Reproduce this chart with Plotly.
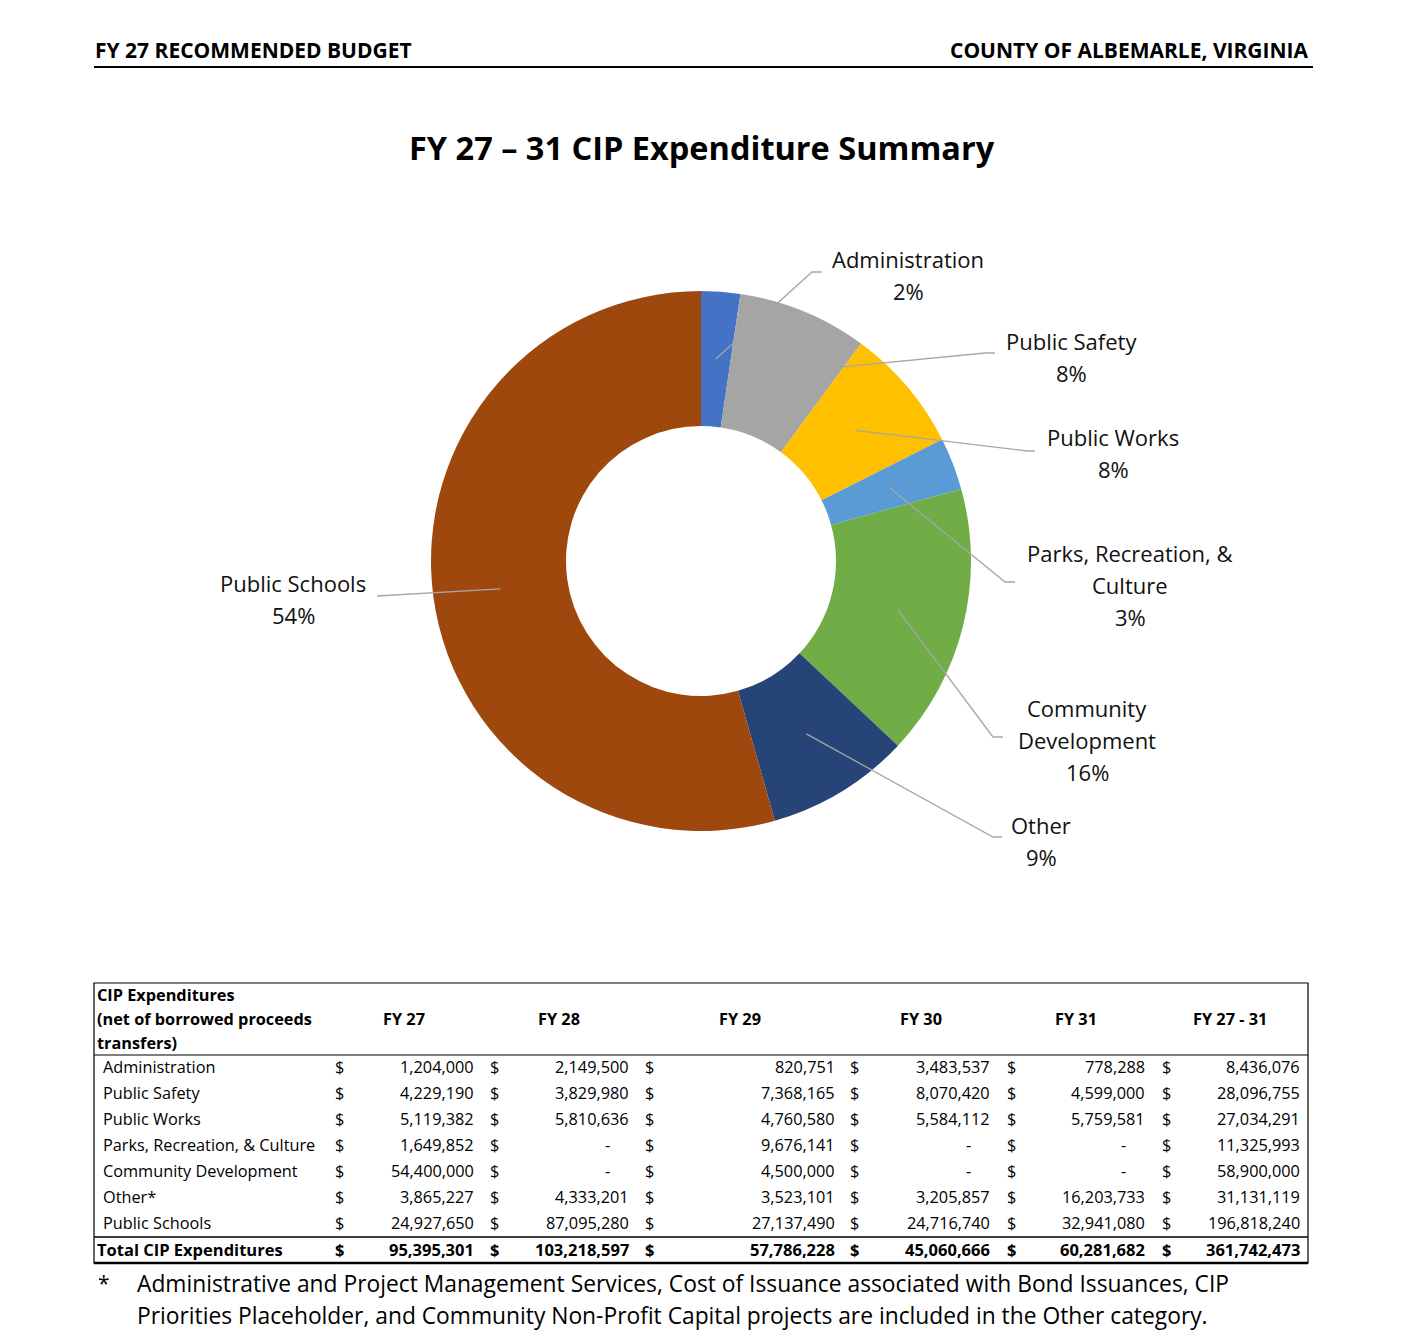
import math
import plotly.graph_objects as go

W, H = 1414, 1340

# ---------------- data ----------------
categories = ["Administration", "Public Safety", "Public Works", "Parks, Recreation, & Culture",
              "Community Development", "Other*", "Public Schools"]
chart_labels = [["Administration"], ["Public Safety"], ["Public Works"],
                ["Parks, Recreation, &", "Culture"], ["Community", "Development"],
                ["Other"], ["Public Schools"]]
pct_labels = ["2%", "8%", "8%", "3%", "16%", "9%", "54%"]
year_headers = ["FY 27", "FY 28", "FY 29", "FY 30", "FY 31", "FY 27 - 31"]
fy27 = [1204000, 4229190, 5119382, 1649852, 54400000, 3865227, 24927650]
fy28 = [2149500, 3829980, 5810636, 0, 0, 4333201, 87095280]
fy29 = [820751, 7368165, 4760580, 9676141, 4500000, 3523101, 27137490]
fy30 = [3483537, 8070420, 5584112, 0, 0, 3205857, 24716740]
fy31 = [778288, 4599000, 5759581, 0, 0, 16203733, 32941080]
fy27_31 = [8436076, 28096755, 27034291, 11325993, 58900000, 31131119, 196818240]
total_row = [95395301, 103218597, 57786228, 45060666, 60281682, 361742473]
colors = ["#4472C4", "#A5A5A5", "#FFC000", "#5B9BD5", "#70AD47", "#264478", "#9E480E"]

# ---------------- helpers ----------------
def X(px):
    return px / W

def Y(py):
    return 1 - py / H

FONT = "Open Sans"
fig = go.Figure()

# donut
cx, cy, R = 701, 561, 270
fig.add_trace(go.Pie(
    values=fy27_31, labels=categories, sort=False, direction="clockwise", rotation=0,
    hole=0.5, textinfo="none", hoverinfo="label+value+percent", showlegend=False,
    marker=dict(colors=colors, line=dict(width=0)),
    domain=dict(x=[X(cx - R), X(cx + R)], y=[Y(cy + R), Y(cy - R)]),
))

# label layout (style/positions)
anchor_frac = [0.5, 0.99, 0.5, 0.5, 0.5, 0.5, 0.5]
anchor_r = [0.75, 0.89, 0.75, 0.75, 0.75, 0.75, 0.75]
elbows = [(812, 272), (985, 353), (1027, 451), (1005, 582), (993, 737), (993, 837), (377, 596)]
ends = [(822, 272), (995, 353), (1035, 451), (1015, 582), (1003, 737), (1002, 837), (377, 596)]
label_x = [908, 1071, 1113, 1130, 1087, 1041, 293]
label_top = [259, 341, 437, 553, 708, 825, 583]
line_step = 32

shapes = []
annotations = []
total = sum(fy27_31)
cum = 0
for i, v in enumerate(fy27_31):
    a0 = cum / total * 360
    cum += v
    a1 = cum / total * 360
    a = math.radians(a0 + anchor_frac[i] * (a1 - a0))
    r = anchor_r[i] * R
    sx, sy = cx + r * math.sin(a), cy - r * math.cos(a)
    ex, ey = elbows[i]
    tx, ty = ends[i]
    path = f"M {X(sx)} {Y(sy)} L {X(ex)} {Y(ey)} L {X(tx)} {Y(ty)}"
    shapes.append(dict(type="path", xref="paper", yref="paper", path=path,
                       line=dict(color="#A6A6A6", width=1.3)))
    lines = chart_labels[i] + [pct_labels[i]]
    for k, t in enumerate(lines):
        annotations.append(dict(x=X(label_x[i]), y=Y(label_top[i] + k * line_step), xref="paper", yref="paper",
                                text=t, showarrow=False, xanchor="center", yanchor="middle",
                                font=dict(family=FONT, size=22, color="#111")))

# page header
annotations.append(dict(x=X(93), y=Y(50), xref="paper", yref="paper", text="<b>FY 27 RECOMMENDED BUDGET</b>",
                        showarrow=False, xanchor="left", yanchor="middle",
                        font=dict(family=FONT, size=21, color="#000")))
annotations.append(dict(x=X(1311), y=Y(50), xref="paper", yref="paper", text="<b>COUNTY OF ALBEMARLE, VIRGINIA</b>",
                        showarrow=False, xanchor="right", yanchor="middle",
                        font=dict(family=FONT, size=21, color="#000")))
shapes.append(dict(type="line", xref="paper", yref="paper", x0=X(94), x1=X(1313), y0=Y(67), y1=Y(67),
                   line=dict(color="#000", width=2)))

# title
annotations.append(dict(x=X(702), y=Y(147), xref="paper", yref="paper",
                        text="<b>FY 27 – 31 CIP Expenditure Summary</b>", showarrow=False,
                        xanchor="center", yanchor="middle", font=dict(family=FONT, size=32.5, color="#000")))

# ---------------- table ----------------
TF = 16.3
dollar_x = [339, 494, 649, 855, 1011, 1166]
num_right = [476, 631, 837, 992, 1147, 1302]
head_x = [404, 559, 740, 921, 1076, 1230]
row_y0, row_step = 1067, 26
total_y = 1249

def txt(x, y, t, anchor="left", bold=False, size=TF):
    annotations.append(dict(x=X(x), y=Y(y), xref="paper", yref="paper",
                            text=f"<b>{t}</b>" if bold else t, showarrow=False,
                            xanchor=anchor, yanchor="middle",
                            font=dict(family=FONT, size=size, color="#000")))

for k, t in enumerate(["CIP Expenditures", "(net of borrowed proceeds", "transfers)"]):
    txt(95, 995 + 24 * k, t, bold=True, size=16.3)
for j, h in enumerate(year_headers):
    txt(head_x[j], 1019, h, anchor="center", bold=True, size=16.3)

columns = [fy27, fy28, fy29, fy30, fy31, fy27_31]
for i, cat in enumerate(categories):
    y = row_y0 + i * row_step
    txt(101, y, cat)
    for j, col in enumerate(columns):
        txt(dollar_x[j], y, "$", anchor="center")
        v = col[i]
        if v == 0:
            txt(num_right[j] - 24, y, "-", anchor="center")
        else:
            txt(num_right[j], y, f"{v:,}", anchor="right")

txt(95, total_y, "Total CIP Expenditures", bold=True, size=16.5)
for j, v in enumerate(total_row):
    txt(dollar_x[j], total_y, "$", anchor="center", bold=True, size=16.5)
    txt(num_right[j], total_y, f"{v:,}", anchor="right", bold=True, size=16.5)

shapes.append(dict(type="rect", xref="paper", yref="paper", x0=X(94), x1=X(1308), y0=Y(1263), y1=Y(983),
                   line=dict(color="#000", width=1.2)))
shapes.append(dict(type="line", xref="paper", yref="paper", x0=X(94), x1=X(1308), y0=Y(1055), y1=Y(1055),
                   line=dict(color="#000", width=1.2)))
shapes.append(dict(type="line", xref="paper", yref="paper", x0=X(94), x1=X(1308), y0=Y(1237), y1=Y(1237),
                   line=dict(color="#000", width=1.5)))
shapes.append(dict(type="line", xref="paper", yref="paper", x0=X(94), x1=X(1308), y0=Y(1263), y1=Y(1263),
                   line=dict(color="#000", width=2.5)))

# footnote
txt(96, 1283, "*", size=21)
txt(135, 1283, "Administrative and Project Management Services, Cost of Issuance associated with Bond Issuances, CIP", size=22.8)
txt(135, 1315, "Priorities Placeholder, and Community Non-Profit Capital projects are included in the Other category.", size=22.8)

fig.update_layout(width=W, height=H, margin=dict(l=0, r=0, t=0, b=0, pad=0),
                  paper_bgcolor="white", plot_bgcolor="white",
                  shapes=shapes, annotations=annotations, showlegend=False)

fig.write_html("out.html", config={"displayModeBar": False},
               post_script="document.body.style.margin='0';document.body.style.overflow='hidden';")
